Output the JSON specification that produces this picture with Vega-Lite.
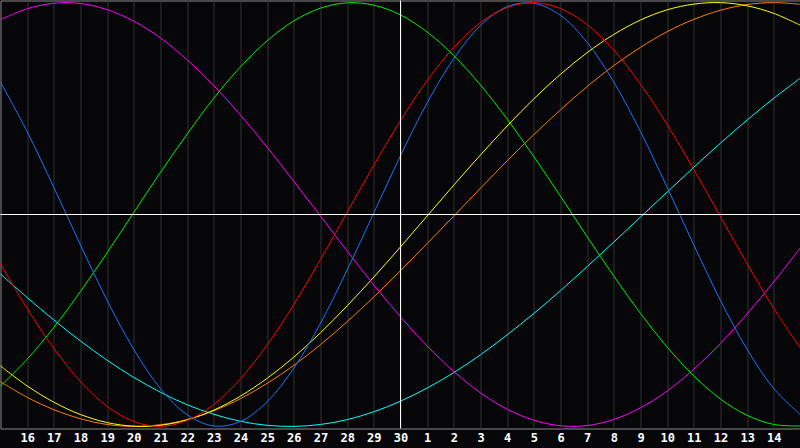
{
  "$schema": "https://vega.github.io/schema/vega-lite/v6.json",
  "width": 800,
  "height": 428,
  "autosize": {"type": "none"},
  "padding": {"left": 0.5, "top": 0.5, "right": -0.5, "bottom": 19.5},
  "background": "#060609",
  "config": {
    "view": {"stroke": "#8a8a8a", "strokeWidth": 1, "fill": "#060609"}
  },
  "data": {"values": [
    {"d":0,"phys":0.625,"emot":-0.233,"intel":-0.809,"intu":0.919,"aest":-0.715,"awar":-0.789,"spir":-0.281},
    {"d":1,"phys":0.391,"emot":-0.444,"intel":-0.683,"intu":0.971,"aest":-0.809,"awar":-0.863,"spir":-0.392},
    {"d":2,"phys":0.128,"emot":-0.632,"intel":-0.533,"intu":0.997,"aest":-0.886,"awar":-0.921,"spir":-0.498},
    {"d":3,"phys":-0.144,"emot":-0.789,"intel":-0.363,"intu":0.996,"aest":-0.944,"awar":-0.964,"spir":-0.597},
    {"d":4,"phys":-0.406,"emot":-0.906,"intel":-0.180,"intu":0.967,"aest":-0.982,"awar":-0.991,"spir":-0.688},
    {"d":5,"phys":-0.637,"emot":-0.977,"intel":0.010,"intu":0.912,"aest":-0.999,"awar":-1.0,"spir":-0.769},
    {"d":6,"phys":-0.822,"emot":-1.0,"intel":0.199,"intu":0.833,"aest":-0.995,"awar":-0.992,"spir":-0.839},
    {"d":7,"phys":-0.945,"emot":-0.972,"intel":0.380,"intu":0.730,"aest":-0.969,"awar":-0.968,"spir":-0.898},
    {"d":8,"phys":-0.998,"emot":-0.896,"intel":0.549,"intu":0.608,"aest":-0.923,"awar":-0.926,"spir":-0.943},
    {"d":9,"phys":-0.977,"emot":-0.775,"intel":0.697,"intu":0.469,"aest":-0.857,"awar":-0.869,"spir":-0.976},
    {"d":10,"phys":-0.884,"emot":-0.615,"intel":0.820,"intu":0.317,"aest":-0.773,"awar":-0.797,"spir":-0.995},
    {"d":11,"phys":-0.725,"emot":-0.424,"intel":0.914,"intu":0.156,"aest":-0.673,"awar":-0.712,"spir":-1.0},
    {"d":12,"phys":-0.513,"emot":-0.212,"intel":0.974,"intu":-0.008,"aest":-0.558,"awar":-0.614,"spir":-0.991},
    {"d":13,"phys":-0.262,"emot":0.011,"intel":0.999,"intu":-0.173,"aest":-0.431,"awar":-0.506,"spir":-0.968},
    {"d":14,"phys":0.008,"emot":0.233,"intel":0.988,"intu":-0.333,"aest":-0.295,"awar":-0.389,"spir":-0.931},
    {"d":15,"phys":0.278,"emot":0.444,"intel":0.942,"intu":-0.483,"aest":-0.153,"awar":-0.265,"spir":-0.881},
    {"d":16,"phys":0.527,"emot":0.632,"intel":0.861,"intu":-0.621,"aest":-0.007,"awar":-0.137,"spir":-0.819},
    {"d":17,"phys":0.736,"emot":0.789,"intel":0.750,"intu":-0.741,"aest":0.139,"awar":-0.007,"spir":-0.746},
    {"d":18,"phys":0.892,"emot":0.906,"intel":0.611,"intu":-0.842,"aest":0.281,"awar":0.124,"spir":-0.662},
    {"d":19,"phys":0.981,"emot":0.977,"intel":0.450,"intu":-0.919,"aest":0.418,"awar":0.253,"spir":-0.568},
    {"d":20,"phys":0.997,"emot":1.0,"intel":0.273,"intu":-0.971,"aest":0.546,"awar":0.377,"spir":-0.467},
    {"d":21,"phys":0.940,"emot":0.972,"intel":0.086,"intu":-0.997,"aest":0.662,"awar":0.494,"spir":-0.359},
    {"d":22,"phys":0.812,"emot":0.896,"intel":-0.105,"intu":-0.996,"aest":0.764,"awar":0.604,"spir":-0.246},
    {"d":23,"phys":0.625,"emot":0.775,"intel":-0.291,"intu":-0.967,"aest":0.850,"awar":0.703,"spir":-0.130},
    {"d":24,"phys":0.391,"emot":0.615,"intel":-0.467,"intu":-0.912,"aest":0.918,"awar":0.789,"spir":-0.012},
    {"d":25,"phys":0.128,"emot":0.424,"intel":-0.626,"intu":-0.833,"aest":0.966,"awar":0.863,"spir":0.106},
    {"d":26,"phys":-0.144,"emot":0.212,"intel":-0.762,"intu":-0.730,"aest":0.993,"awar":0.921,"spir":0.223},
    {"d":27,"phys":-0.406,"emot":-0.011,"intel":-0.871,"intu":-0.608,"aest":1.0,"awar":0.964,"spir":0.337},
    {"d":28,"phys":-0.637,"emot":-0.233,"intel":-0.948,"intu":-0.469,"aest":0.985,"awar":0.991,"spir":0.446},
    {"d":29,"phys":-0.822,"emot":-0.444,"intel":-0.991,"intu":-0.317,"aest":0.949,"awar":1.0,"spir":0.549},
    {"d":30,"phys":-0.945,"emot":-0.632,"intel":-0.998,"intu":-0.156,"aest":0.893,"awar":0.992,"spir":0.644}
  ]},
  "layer": [
    {
      "transform": [{"fold": ["spir", "awar", "aest", "intu", "intel", "phys", "emot"], "as": ["series", "v"]}],
      "mark": {"type": "line", "strokeWidth": 1, "interpolate": "catmull-rom"},
      "encoding": {
        "x": {
          "field": "d", "type": "quantitative",
          "scale": {"domain": [0, 30], "nice": false, "zero": false},
          "axis": {
            "values": [1,2,3,4,5,6,7,8,9,10,11,12,13,14,15,16,17,18,19,20,21,22,23,24,25,26,27,28,29],
            "tickCount": 40,
            "labelExpr": "datum.value <= 15 ? datum.value + 15 : datum.value - 15",
            "grid": true, "gridColor": "#333333", "gridWidth": 1,
            "ticks": false, "domain": false, "title": null,
            "labelColor": "#ffffff", "labelFont": "DejaVu Sans Mono", "labelFontWeight": "bold",
            "labelFontSize": 12, "labelPadding": 4, "labelOverlap": false, "labelFlush": false
          }
        },
        "y": {"field": "v", "type": "quantitative", "scale": {"domain": [-1.01, 1.01], "nice": false}, "axis": null},
        "color": {
          "field": "series", "type": "nominal",
          "scale": {
            "domain": ["phys", "emot", "intel", "intu", "aest", "awar", "spir"],
            "range": ["#1a74ff", "#ff0000", "#00f000", "#ff00ff", "#ffff00", "#ff8000", "#00ffff"]
          },
          "legend": null
        }
      }
    },
    {
      "data": {"values": [{}]},
      "mark": {"type": "rule", "color": "#ffffff", "strokeWidth": 1},
      "encoding": {"y": {"datum": 0}}
    },
    {
      "data": {"values": [{}]},
      "mark": {"type": "rule", "color": "#ffffff", "strokeWidth": 1},
      "encoding": {"x": {"datum": 15}}
    }
  ]
}
